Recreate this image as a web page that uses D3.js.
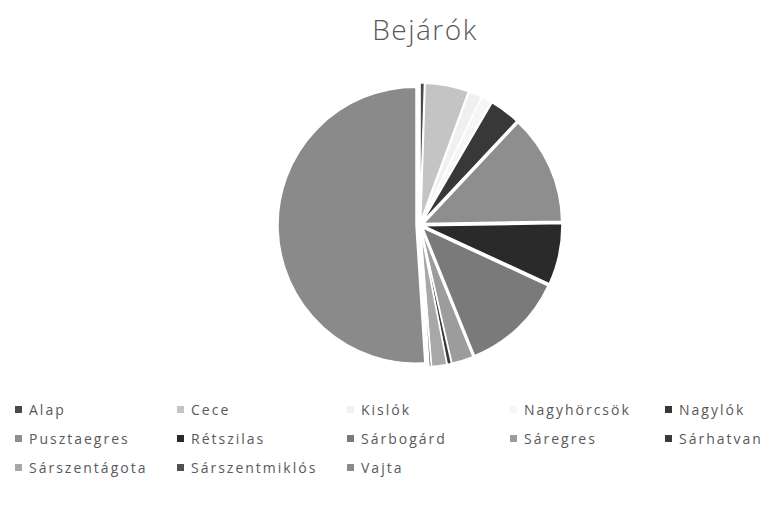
<!DOCTYPE html>
<html>
<head>
<meta charset="utf-8">
<script src="https://cdn.jsdelivr.net/npm/d3@7"></script>
<style>
  body { margin: 0; background: #fff; }
  svg { display: block; }
</style>
</head>
<body>
<div id="chart"></div>
<script>
// settlements, in the order of the legend
const categories = ["Alap", "Cece", "Kislók", "Nagyhörcsök", "Nagylók",
    "Pusztaegres", "Rétszilas", "Sárbogárd", "Sáregres", "Sárhatvan",
    "Sárszentágota", "Sárszentmiklós", "Vajta"];
const values = [2, 20, 6, 5, 14, 50, 28, 47, 10, 2, 7, 1, 200];
const grays = ["#4a4a4a", "#c4c4c4", "#f0f0f0", "#f6f6f6", "#383838",
    "#8e8e8e", "#2a2a2a", "#7a7a7a", "#9c9c9c", "#3a3a3a",
    "#a8a8a8", "#505050", "#8a8a8a"];

const width = 776, height = 512;
const cx = 420, cy = 225, radius = 138, explode = 4;

const svg = d3.select("#chart").append("svg")
    .attr("width", width)
    .attr("height", height);

// title
svg.append("text")
    .attr("x", 425)
    .attr("y", 40)
    .attr("text-anchor", "middle")
    .style("font-family", "'Open Sans', sans-serif")
    .style("font-weight", 300)
    .style("font-size", "28px")
    .style("letter-spacing", "1.5px")
    .attr("fill", "#595959")
    .text("Bejárók");

const data = categories.map((c, i) => ({ name: c, value: values[i], color: grays[i] }));

const pie = d3.pie().value(d => d.value).sort(null);
const arc = d3.arc().innerRadius(0).outerRadius(radius);

// exploded slices, each pushed out along its middle angle
const g = svg.append("g").attr("transform", `translate(${cx},${cy})`);
g.selectAll("path")
    .data(pie(data))
    .join("path")
    .attr("d", arc)
    .attr("transform", d => {
        const a = (d.startAngle + d.endAngle) / 2;
        return `translate(${explode * Math.sin(a)},${-explode * Math.cos(a)})`;
    })
    .attr("fill", d => d.data.color)
    .attr("stroke", "#fff")
    .attr("stroke-width", 1.5);

// legend, 5 columns
const colX = [15, 177, 347, 510, 665];
const rowY = [410, 439, 468];
const legend = svg.append("g")
    .selectAll("g")
    .data(data)
    .join("g")
    .attr("transform", (d, i) => `translate(${colX[i % 5]},${rowY[Math.floor(i / 5)]})`);

legend.append("rect")
    .attr("x", 0)
    .attr("y", -4)
    .attr("width", 7)
    .attr("height", 7)
    .attr("fill", d => d.color);

legend.append("text")
    .attr("x", 14)
    .attr("y", 0)
    .attr("dy", "0.35em")
    .style("font-family", "'Open Sans', sans-serif")
    .style("font-size", "14px")
    .style("letter-spacing", "2px")
    .attr("fill", "#595959")
    .text(d => d.name);
</script>
</body>
</html>
